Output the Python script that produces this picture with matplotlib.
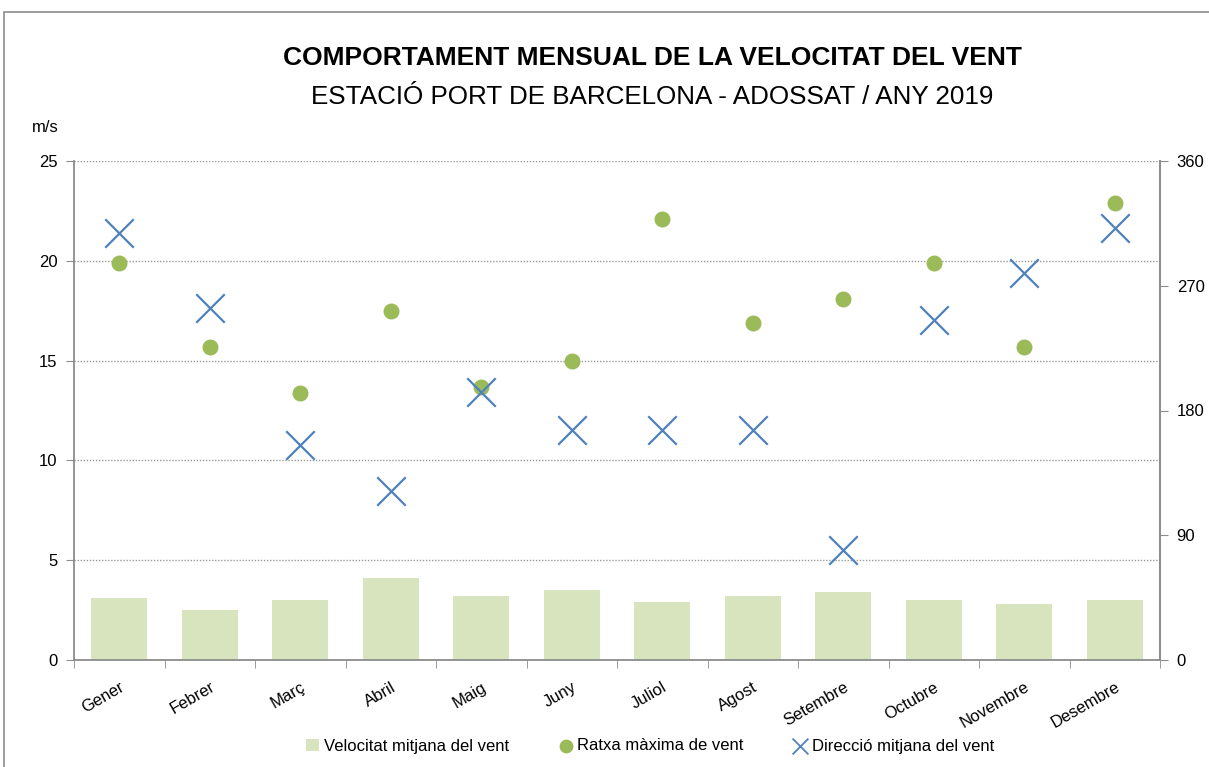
import numpy as np
import matplotlib.pyplot as plt
from matplotlib.patches import Rectangle

# dades
mesos = ["Gener", "Febrer", "Març", "Abril", "Maig", "Juny", "Juliol",
         "Agost", "Setembre", "Octubre", "Novembre", "Desembre"]
velocitat_mitjana = [3.1, 2.5, 3.0, 4.1, 3.2, 3.5, 2.9, 3.2, 3.4, 3.0, 2.8, 3.0]
ratxa_maxima = [19.9, 15.7, 13.4, 17.5, 13.7, 15.0, 22.1, 16.9, 18.1, 19.9, 15.7, 22.9]
direccio_mitjana = [308, 254, 155, 122, 193, 166, 166, 166, 79, 245, 279, 312]

plt.rcParams["font.family"] = ["Liberation Sans", "DejaVu Sans"]

fig = plt.figure(figsize=(12.09, 7.67), dpi=100)
fig.patches.append(Rectangle((4 / 1209, -0.05), 1.1, 1 - 12 / 767 + 0.05,
                             transform=fig.transFigure, fill=False,
                             edgecolor="#8c8c8c", lw=1.2))

ax = fig.add_axes([74 / 1209, 1 - 660 / 767, (1160 - 74) / 1209, (660 - 161) / 767])
x = np.arange(len(mesos))

barres = ax.bar(x, velocitat_mitjana, width=0.62, color="#D7E4BD", zorder=2,
                label="Velocitat mitjana del vent")
punts = ax.scatter(x, ratxa_maxima, s=110, color="#9BBB59", zorder=3,
                   label="Ratxa màxima de vent")

ax.set_xlim(-0.5, 11.5)
ax.set_ylim(0, 25)
ax.set_yticks(range(0, 26, 5))
ax.yaxis.grid(True, linestyle=(0, (1, 1.2)), color="#9a9a9a", lw=1.0, zorder=0)
ax.set_xticks(x)
ax.set_xticklabels(mesos, rotation=30, ha="right", rotation_mode="anchor", fontsize=12)
ax.tick_params(axis="x", length=0, pad=14)
ax.set_xticks(np.arange(-0.5, 12, 1), minor=True)
ax.tick_params(axis="x", which="minor", length=6, color="#8c8c8c", direction="out")
ax.tick_params(axis="y", length=6, color="#8c8c8c", labelsize=12, pad=6)

ax.spines["top"].set_visible(False)
for s in ["left", "bottom", "right"]:
    ax.spines[s].set_color("#8c8c8c")
    ax.spines[s].set_linewidth(1.3)

ax2 = ax.twinx()
creus = ax2.scatter(x, direccio_mitjana, marker="x", s=420, color="#4F81BD", lw=1.6,
                    zorder=4, label="Direcció mitjana del vent")
ax2.set_ylim(0, 360)
ax2.set_yticks(range(0, 361, 90))
ax2.tick_params(axis="y", length=6, color="#8c8c8c", labelsize=12, pad=6)
for s in ["top", "left", "bottom"]:
    ax2.spines[s].set_visible(False)
ax2.spines["right"].set_color("#8c8c8c")
ax2.spines["right"].set_linewidth(1.3)

fig.text(652 / 1209, 1 - 58 / 767, "COMPORTAMENT MENSUAL DE LA VELOCITAT DEL VENT",
         ha="center", va="center", fontsize=19, fontweight="bold")
fig.text(652 / 1209, 1 - 97 / 767, "ESTACIÓ PORT DE BARCELONA - ADOSSAT / ANY 2019",
         ha="center", va="center", fontsize=18.7)
fig.text(32 / 1209, 1 - 128 / 767, "m/s", ha="left", va="center", fontsize=12)

leg = fig.legend([barres, punts, creus],
                 ["Velocitat mitjana del vent", "Ratxa màxima de vent", "Direcció mitjana del vent"],
                 loc="center", bbox_to_anchor=(650 / 1209, 1 - 746 / 767),
                 ncol=3, frameon=False, fontsize=12, handlelength=0.8, handletextpad=0.3,
                 columnspacing=3.0)
leg.legend_handles[1].set_sizes([80])
leg.legend_handles[2].set_sizes([130])
leg.legend_handles[2].set_linewidth(1.3)

fig.savefig("out.png", dpi=100)
